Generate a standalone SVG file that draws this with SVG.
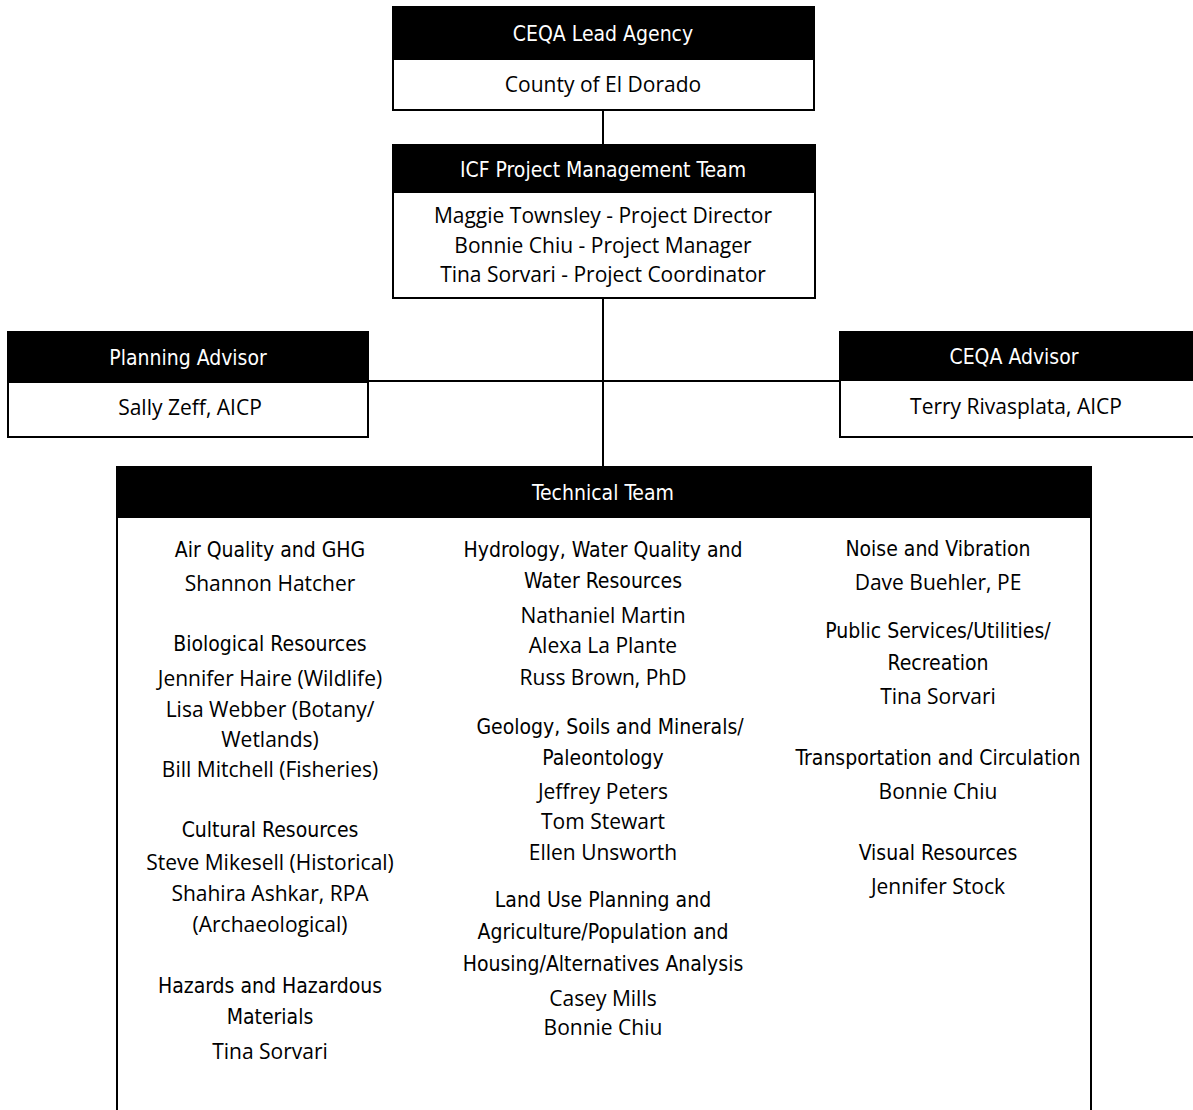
<svg xmlns="http://www.w3.org/2000/svg" width="1193" height="1110" viewBox="0 0 1193 1110">
<style>
.hd{fill:#000}
.bx{fill:#fff;stroke:#000;stroke-width:2}
.ht{font-family:"DejaVu Sans Condensed","DejaVu Sans",sans-serif;font-stretch:condensed;font-size:21px;fill:#fff;text-anchor:middle}
.b{font-family:"Open Sans","Liberation Sans",sans-serif;font-size:21px;font-weight:500;fill:#000;text-anchor:middle}
.h{font-family:"DejaVu Sans Condensed","DejaVu Sans",sans-serif;font-stretch:condensed;font-size:21px;fill:#000;text-anchor:middle}
.ln{stroke:#000;stroke-width:2;fill:none}
</style>
<rect width="1193" height="1110" fill="#fff"/>
<g id="connectors">
<line class="ln" x1="603" y1="110" x2="603" y2="145"/>
<line class="ln" x1="603" y1="298" x2="603" y2="467"/>
<line class="ln" x1="368" y1="381" x2="840" y2="381"/>
</g>
<g id="lead-agency">
<rect class="bx" x="393" y="7" width="421" height="103"/>
<rect class="hd" x="393" y="7" width="421" height="53"/>
<text class="ht" x="603" y="41">CEQA Lead Agency</text>
<text class="b" x="603" y="92">County of El Dorado</text>
</g>
<g id="pm-team">
<rect class="bx" x="393" y="145" width="422" height="153"/>
<rect class="hd" x="393" y="145" width="422" height="48"/>
<text class="ht" x="603" y="177">ICF Project Management Team</text>
<text class="b" x="603" y="223">Maggie Townsley - Project Director</text>
<text class="b" x="603" y="253">Bonnie Chiu - Project Manager</text>
<text class="b" x="603" y="282">Tina Sorvari - Project Coordinator</text>
</g>
<g id="planning-advisor">
<rect class="bx" x="8" y="332" width="360" height="105"/>
<rect class="hd" x="8" y="332" width="360" height="51"/>
<text class="ht" x="188" y="365">Planning Advisor</text>
<text class="b" x="190" y="415">Sally Zeff, AICP</text>
</g>
<g id="ceqa-advisor">
<rect class="bx" x="840" y="332" width="360" height="105"/>
<rect class="hd" x="840" y="332" width="360" height="49"/>
<text class="ht" x="1014" y="364">CEQA Advisor</text>
<text class="b" x="1016" y="414">Terry Rivasplata, AICP</text>
</g>
<g id="technical-team">
<rect class="bx" x="117" y="467" width="974" height="660"/>
<rect class="hd" x="117" y="467" width="974" height="51"/>
<text class="ht" x="603" y="500">Technical Team</text>
<text class="h" x="270" y="557">Air Quality and GHG</text>
<text class="b" x="270" y="591">Shannon Hatcher</text>
<text class="h" x="270" y="651">Biological Resources</text>
<text class="b" x="270" y="686">Jennifer Haire (Wildlife)</text>
<text class="b" x="270" y="717">Lisa Webber (Botany/</text>
<text class="b" x="270" y="747">Wetlands)</text>
<text class="b" x="270" y="777">Bill Mitchell (Fisheries)</text>
<text class="h" x="270" y="837">Cultural Resources</text>
<text class="b" x="270" y="870">Steve Mikesell (Historical)</text>
<text class="b" x="270" y="901">Shahira Ashkar, RPA</text>
<text class="b" x="270" y="932">(Archaeological)</text>
<text class="h" x="270" y="993">Hazards and Hazardous</text>
<text class="h" x="270" y="1024">Materials</text>
<text class="b" x="270" y="1059">Tina Sorvari</text>
<text class="h" x="603" y="557">Hydrology, Water Quality and</text>
<text class="h" x="603" y="588">Water Resources</text>
<text class="b" x="603" y="623">Nathaniel Martin</text>
<text class="b" x="603" y="653">Alexa La Plante</text>
<text class="b" x="603" y="685">Russ Brown, PhD</text>
<text class="h" x="610" y="734">Geology, Soils and Minerals/</text>
<text class="h" x="603" y="765">Paleontology</text>
<text class="b" x="603" y="799">Jeffrey Peters</text>
<text class="b" x="603" y="829">Tom Stewart</text>
<text class="b" x="603" y="860">Ellen Unsworth</text>
<text class="h" x="603" y="907">Land Use Planning and</text>
<text class="h" x="603" y="939">Agriculture/Population and</text>
<text class="h" x="603" y="971">Housing/Alternatives Analysis</text>
<text class="b" x="603" y="1006">Casey Mills</text>
<text class="b" x="603" y="1035">Bonnie Chiu</text>
<text class="h" x="938" y="556">Noise and Vibration</text>
<text class="b" x="938" y="590">Dave Buehler, PE</text>
<text class="h" x="938" y="638">Public Services/Utilities/</text>
<text class="h" x="938" y="670">Recreation</text>
<text class="b" x="938" y="704">Tina Sorvari</text>
<text class="h" x="938" y="765">Transportation and Circulation</text>
<text class="b" x="938" y="799">Bonnie Chiu</text>
<text class="h" x="938" y="860">Visual Resources</text>
<text class="b" x="938" y="894">Jennifer Stock</text>
</g>
</svg>
